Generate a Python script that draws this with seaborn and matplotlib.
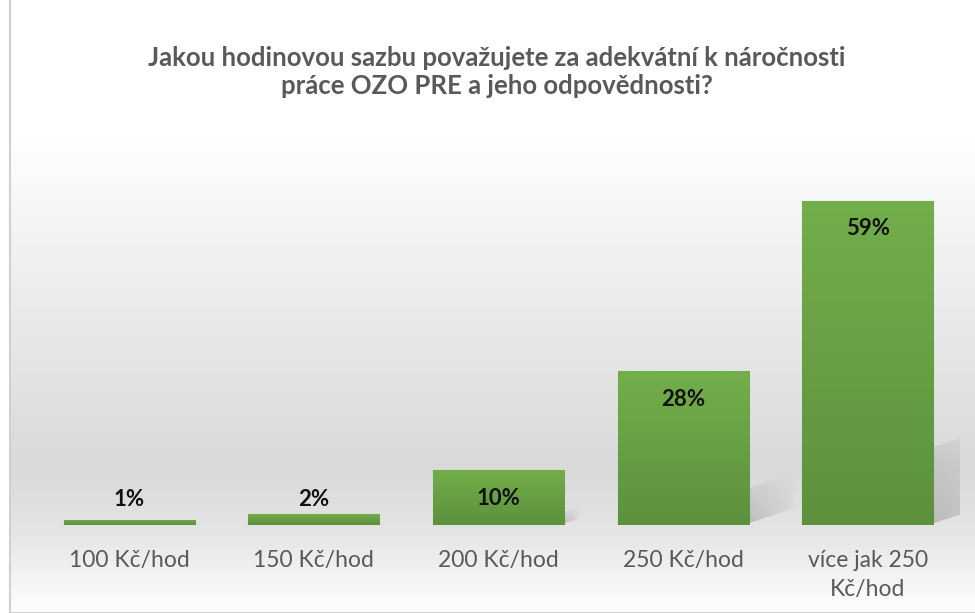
import numpy as np
import pandas as pd
import seaborn as sns
import matplotlib.pyplot as plt
from matplotlib.colors import LinearSegmentedColormap
from matplotlib.patches import Rectangle, Polygon

categories = ["100 Kč/hod", "150 Kč/hod", "200 Kč/hod", "250 Kč/hod", "více jak 250\nKč/hod"]
values = [1, 2, 10, 28, 59]
value_labels = ["1%", "2%", "10%", "28%", "59%"]
title = "Jakou hodinovou sazbu považujete za adekvátní k náročnosti\npráce OZO PRE a jeho odpovědnosti?"

sns.set_style("white")
plt.rcParams['font.family'] = ['Lato', 'DejaVu Sans']

W, H = 975, 613
fig = plt.figure(figsize=(W / 100, H / 100), dpi=100)
fig.patch.set_facecolor("white")

# background panel with vertical gradient
bg = fig.add_axes([10 / W, 0, 1 - 10 / W, 1 - 15 / H])
bg_cmap = LinearSegmentedColormap.from_list(
    "bg", [(0.0, "#ffffff"), (0.20, "#ffffff"), (0.38, "#f2f2f2"),
           (0.76, "#d9d9d9"), (0.86, "#e4e4e4"), (1.0, "#fefefe")])
grad = np.linspace(0, 1, 256).reshape(-1, 1)
bg.imshow(grad, aspect="auto", cmap=bg_cmap, extent=[0, 1, 1, 0])
bg.set_xlim(0, 1)
bg.set_ylim(1, 0)
bg.set_axis_off()
bg.add_patch(Rectangle((0, 0), 1.2, 1.2, transform=bg.transAxes, fill=False,
                       edgecolor="#d0d0d0", linewidth=1.5, clip_on=False))

# main axes
ax = fig.add_axes([37 / W, (H - 525) / H, (960 - 37) / W, 375 / H])
ax.patch.set_alpha(0)
df = pd.DataFrame({"cat": categories, "val": values})
sns.barplot(data=df, x="cat", y="val", color="#70ad47", width=0.71, ax=ax,
            saturation=1, zorder=2)
YMAX = 68.2
ax.set_ylim(0, YMAX)
ax.set_xlim(-0.5, len(categories) - 0.5)

px_per_unit_y = 375 / YMAX
px_per_unit_x = (960 - 37) / len(categories)

bar_cmap = LinearSegmentedColormap.from_list("bar", ["#5d913e", "#72ae4a"])
for p in list(ax.patches):
    x0, y0 = p.get_x(), p.get_y()
    w, h = p.get_width(), p.get_height()
    p.set_edgecolor("#8cbf6c")
    p.set_linewidth(0.8)
    # soft perspective shadow to the right of the bar
    hp = h * px_per_unit_y
    dx = 0.3 * hp / px_per_unit_x
    xr = x0 + w
    poly = Polygon([(xr, 0.3), (xr, 0.24 * h), (xr + dx, 0.34 * h), (xr + dx, 0.3 + 0.1 * h)],
                   closed=True, facecolor="none", edgecolor="none", transform=ax.transData)
    ax.add_patch(poly)
    ny, nx = 64, 32
    yy = np.linspace(0, 1, ny).reshape(-1, 1)
    xx = np.linspace(0, 1, nx).reshape(1, -1)
    alpha = 0.45 * np.clip(1 - yy, 0, 1) ** 0.8 * np.clip(1 - xx, 0, 1) ** 0.6
    rgba = np.zeros((ny, nx, 4))
    rgba[..., :3] = 0.55
    rgba[..., 3] = alpha
    sim = ax.imshow(rgba, aspect="auto", extent=[xr, xr + dx, 0, 0.34 * h],
                    origin="lower", zorder=1.5, interpolation="bilinear")
    sim.set_clip_path(poly)
    # gradient fill of the bar
    im = ax.imshow(np.linspace(0, 1, 128).reshape(-1, 1), aspect="auto", cmap=bar_cmap,
                   extent=[x0, x0 + w, y0, y0 + h], origin="lower", zorder=2.5)
    im.set_clip_path(p)
ax.set_aspect("auto")
ax.set_xlim(-0.5, len(categories) - 0.5)
ax.set_ylim(0, YMAX)

for i, (v, lab) in enumerate(zip(values, value_labels)):
    y = max(v - 5.1, 4.6)
    ax.text(i, y, lab, ha="center", va="center", fontsize=16, fontweight="bold",
            color="#111111", zorder=4)

ax.set_xlabel("")
ax.set_ylabel("")
ax.set_yticks([])
ax.tick_params(axis="x", length=0, pad=18, labelsize=16.5, labelcolor="#595959")
for t in ax.get_xticklabels():
    t.set_linespacing(1.45)
for s in ax.spines.values():
    s.set_visible(False)

fig.text(497 / W, 1 - 72 / H, title, ha="center", va="center", fontsize=18.5,
         fontweight="bold", color="#595959", linespacing=1.2)

fig.savefig("out.png", dpi=100)
